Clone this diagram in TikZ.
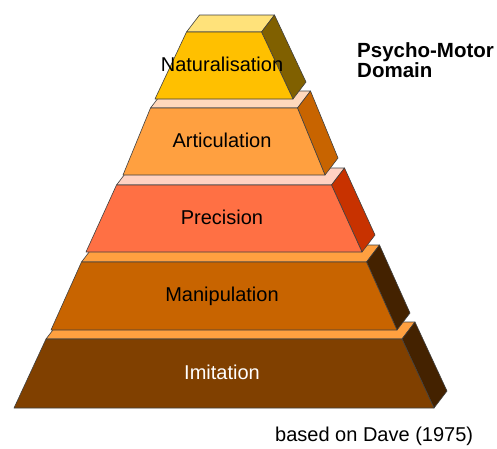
\documentclass[tikz,border=0pt]{standalone}
\usepackage{fontspec}
\setmainfont{Liberation Sans}
\usepackage{xcolor}
\usetikzlibrary{calc}

\definecolor{frontnat}{HTML}{FFC000}
\definecolor{topnat}{HTML}{FFE27A}
\definecolor{sidenat}{HTML}{806000}
\definecolor{frontart}{HTML}{FFA040}
\definecolor{topart}{HTML}{FFD8BC}
\definecolor{sideart}{HTML}{C86400}
\definecolor{frontpre}{HTML}{FF7044}
\definecolor{toppre}{HTML}{FFD2C2}
\definecolor{sidepre}{HTML}{C83200}
\definecolor{frontman}{HTML}{C86400}
\definecolor{topman}{HTML}{FFA040}
\definecolor{sideman}{HTML}{442200}
\definecolor{frontimi}{HTML}{804000}
\definecolor{topimi}{HTML}{FFA040}
\definecolor{sideimi}{HTML}{442200}

\tikzset{
  slab/.style={draw=black!75,line width=0.6pt,line join=round},
  lbl/.style={font=\fontsize{20}{22}\selectfont,anchor=base,inner sep=0pt},
  note/.style={font=\fontsize{20}{20}\selectfont,anchor=base west,inner sep=0pt,align=left}
}

\begin{document}
\begin{tikzpicture}[x=1pt,y=-1pt]
\useasboundingbox (0,0) rectangle (497,448);
%% slabs, bottom one first
\foreach \n/\yt/\yb/\wt/\wb/\lvl/\tc/\name in {
    5/339/408/178/210/imi/white/Imitation,
    4/262/330/142.5/173/man/black/Manipulation,
    3/185/252/107.5/138/pre/black/Precision,
    2/108/175/73.5/101/art/black/Articulation,
    1/32/99/37.5/69/nat/black/Naturalisation}
{
  \coordinate (fl\n) at ({224-\wt},\yt);
  \coordinate (fr\n) at ({224+\wt},\yt);
  \coordinate (bl\n) at ({224-\wb},\yb);
  \coordinate (br\n) at ({224+\wb},\yb);
  \filldraw[slab,fill=top\lvl] (fl\n) -- (fr\n) -- ($(fr\n)+(13,-17)$) -- ($(fl\n)+(13,-17)$) -- cycle;
  \filldraw[slab,fill=side\lvl] (fr\n) -- ($(fr\n)+(13,-17)$) -- ($(br\n)+(13,-17)$) -- (br\n) -- cycle;
  \filldraw[slab,fill=front\lvl] (fl\n) -- (fr\n) -- (br\n) -- (bl\n) -- cycle;
  \node[lbl,text=\tc] (lbl\n) at (222,{(\yt+\yb)/2+5.5}) {\name};
}
\node[note,font=\fontsize{20.5}{20}\selectfont\bfseries] (domain) at (357,77) {Psycho-Motor\\Domain};
\node[note] (source) at (275,441) {based on Dave (1975)};
\end{tikzpicture}
\end{document}
